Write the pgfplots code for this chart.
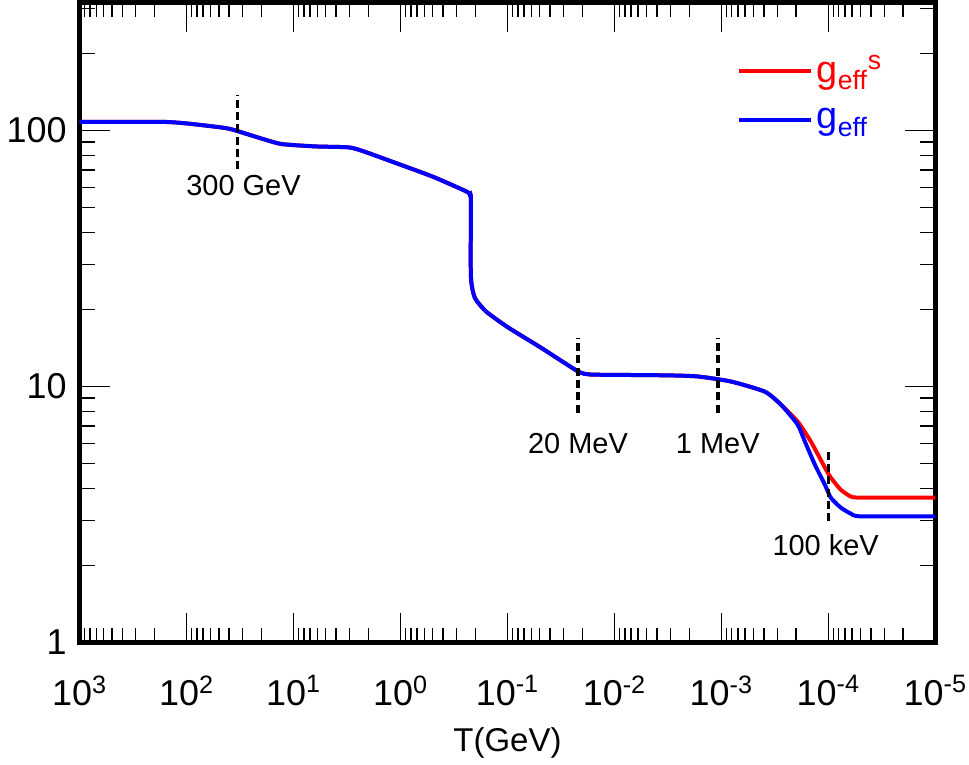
\documentclass[border=0pt]{standalone}
\usepackage{fontspec}
\setmainfont{Liberation Sans}
\usepackage{pgfplots}
\pgfplotsset{compat=1.18}

\begin{document}
\begin{tikzpicture}
\begin{axis}[
  scale only axis,
  width=428.5pt, height=320.5pt,
  xmode=log, ymode=log,
  x dir=reverse,
  xmin=1e-5, xmax=1e3,
  ymin=1, ymax=316,
  axis line style={line width=2.5pt},
  every tick/.style={black, line width=0.7pt},
  major tick length=15pt,
  minor tick length=7.5pt,
  xtick={1e3,1e2,1e1,1,1e-1,1e-2,1e-3,1e-4,1e-5},
  xticklabels={10\textsuperscript{3},10\textsuperscript{2},10\textsuperscript{1},10\textsuperscript{0},
    10\textsuperscript{-1},10\textsuperscript{-2},10\textsuperscript{-3},10\textsuperscript{-4},10\textsuperscript{-5}},
  minor xtick={2e2,3e2,4e2,5e2,6e2,7e2,8e2,9e2,
    2e1,3e1,4e1,5e1,6e1,7e1,8e1,9e1,
    2,3,4,5,6,7,8,9,
    0.2,0.3,0.4,0.5,0.6,0.7,0.8,0.9,
    0.02,0.03,0.04,0.05,0.06,0.07,0.08,0.09,
    2e-3,3e-3,4e-3,5e-3,6e-3,7e-3,8e-3,9e-3,
    2e-4,3e-4,4e-4,5e-4,6e-4,7e-4,8e-4,9e-4,
    2e-5,3e-5,4e-5,5e-5,6e-5,7e-5,8e-5,9e-5},
  ytick={1,10,100},
  yticklabels={1,10,100},
  minor ytick={2,3,4,5,6,7,8,9,20,30,40,50,60,70,80,90,200,300},
  tick label style={font=\fontsize{18}{21}\selectfont},
  xticklabel style={yshift=-13pt, inner xsep=1pt},
  yticklabel style={xshift=-3pt},
  xlabel={T(GeV)},
  xlabel style={font=\fontsize{16.5}{19}\selectfont, yshift=-4pt},
  legend style={draw=none, fill=none, at={(0.95,0.93)}, anchor=north east,
    font=\fontsize{19}{22}\selectfont, row sep=7.5pt},
  legend cell align=left,
  legend image code/.code={\draw[#1] (0pt,0pt) -- (36pt,0pt);},
]
% g_eff^s
\addplot[red, line width=2pt, smooth, tension=0.35] coordinates {
  (1e3,108) (1.7e2,108) (1e2,106.5) (5e1,103) (3.8e1,101) (2e1,93) (1.3e1,88.5)
  (6.25,86.6) (3.08,85.9) (2.24,83) (1.05,74) (0.5,66) (0.243,57.8)
  (0.225,56) (0.22,54) (0.22,27) (0.202,22.2) (0.158,19.6) (0.0986,17.0)
  (0.049,14.2) (0.0219,11.45) (0.017,11.14) (0.01,11.1) (3.16e-3,11.05)
  (1.66e-3,10.94) (8.17e-4,10.46) (3.94e-4,9.55) (2.79e-4,8.51)
  (1.94e-4,7.3) (1.46e-4,6.1) (1.08e-4,4.83) (9.5e-5,4.41) (7.7e-5,3.96)
  (6.2e-5,3.72) (5.0e-5,3.68) (1e-5,3.68)};
\addlegendentry{\textcolor{red}{g\textsubscript{eff}\textsuperscript{s}}}
% g_eff
\addplot[blue, line width=2pt, smooth, tension=0.35] coordinates {
  (1e3,108) (1.7e2,108) (1e2,106.5) (5e1,103) (3.8e1,101) (2e1,93) (1.3e1,88.5)
  (6.25,86.6) (3.08,85.9) (2.24,83) (1.05,74) (0.5,66) (0.243,57.8)
  (0.225,56) (0.22,54) (0.22,27) (0.202,22.2) (0.158,19.6) (0.0986,17.0)
  (0.049,14.2) (0.0219,11.45) (0.017,11.14) (0.01,11.1) (3.16e-3,11.05)
  (1.66e-3,10.94) (8.17e-4,10.46) (3.94e-4,9.55) (2.79e-4,8.51)
  (1.94e-4,7.10) (1.66e-4,6.1) (1.34e-4,4.96) (1.08e-4,4.14) (9.5e-5,3.68)
  (7.7e-5,3.37) (6.2e-5,3.19) (5.0e-5,3.11) (1e-5,3.11)};
\addlegendentry{\textcolor{blue}{g\textsubscript{eff}}}
% markers
\addplot[black, line width=1.8pt, dash pattern=on 4pt off 2.2pt, forget plot]
  coordinates {(33.5,70.4) (33.5,138)};
\addplot[black, line width=1.8pt, dash pattern=on 4pt off 2.2pt, forget plot]
  coordinates {(0.0219,7.9) (0.0219,15.5)};
\addplot[black, line width=1.8pt, dash pattern=on 4pt off 2.2pt, forget plot]
  coordinates {(1.07e-3,7.9) (1.07e-3,15.5)};
\addplot[black, line width=1.8pt, dash pattern=on 4pt off 2.2pt, forget plot]
  coordinates {(1e-4,2.97) (1e-4,5.78)};
\node[font=\fontsize{14.5}{17}\selectfont] at (axis cs:29.4,61) {300 GeV};
\node[font=\fontsize{14.5}{17}\selectfont] at (axis cs:0.0219,6.0) {20 MeV};
\node[font=\fontsize{14.5}{17}\selectfont] at (axis cs:1.08e-3,6.0) {1 MeV};
\node[font=\fontsize{14.5}{17}\selectfont] at (axis cs:1.06e-4,2.39) {100 keV};
\end{axis}
\end{tikzpicture}
\end{document}
